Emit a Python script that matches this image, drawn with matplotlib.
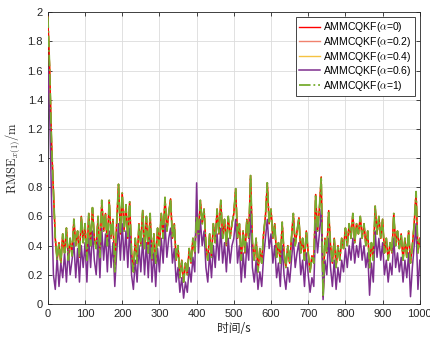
import numpy as np
import matplotlib
matplotlib.use("Agg")
import matplotlib.pyplot as plt

plt.rcParams['font.family'] = ['Liberation Sans', 'Noto Sans CJK SC', 'DejaVu Sans']
plt.rcParams['mathtext.fontset'] = 'cm'

# time axis, one sample every 5 s
t = np.arange(0, 1001, 5)

# RMSE (alpha = 0, 0.2, 0.4, 1 overlap almost exactly)
rmse_a0 = [
    1.97, 1.60, 1.10, 0.78, 0.45, 0.30, 0.42, 0.28, 0.48, 0.35, 0.52, 0.30, 0.45, 0.33, 0.58, 0.40, 0.50, 0.32, 0.60, 0.42,
    0.55, 0.30, 0.62, 0.40, 0.66, 0.45, 0.38, 0.60, 0.32, 0.71, 0.50, 0.62, 0.40, 0.71, 0.45, 0.58, 0.22, 0.55, 0.82, 0.48,
    0.76, 0.50, 0.68, 0.45, 0.70, 0.35, 0.22, 0.45, 0.28, 0.55, 0.40, 0.64, 0.38, 0.60, 0.35, 0.62, 0.30, 0.48, 0.28, 0.52,
    0.40, 0.62, 0.45, 0.73, 0.50, 0.62, 0.72, 0.45, 0.55, 0.30, 0.40, 0.18, 0.30, 0.15, 0.28, 0.20, 0.38, 0.28, 0.45, 0.35,
    0.60, 0.48, 0.71, 0.55, 0.65, 0.40, 0.30, 0.48, 0.32, 0.55, 0.42, 0.65, 0.48, 0.71, 0.45, 0.58, 0.40, 0.60, 0.45, 0.55,
    0.62, 0.79, 0.45, 0.55, 0.30, 0.50, 0.35, 0.58, 0.45, 0.88, 0.42, 0.30, 0.45, 0.22, 0.38, 0.28, 0.48, 0.60, 0.83, 0.55,
    0.65, 0.45, 0.55, 0.32, 0.42, 0.28, 0.56, 0.35, 0.25, 0.40, 0.28, 0.45, 0.62, 0.40, 0.50, 0.59, 0.35, 0.45, 0.30, 0.50,
    0.35, 0.22, 0.33, 0.28, 0.75, 0.50, 0.65, 0.87, 0.05, 0.45, 0.35, 0.64, 0.40, 0.28, 0.45, 0.25, 0.40, 0.30, 0.45, 0.38,
    0.52, 0.40, 0.55, 0.45, 0.62, 0.42, 0.55, 0.48, 0.60, 0.45, 0.55, 0.40, 0.50, 0.25, 0.42, 0.30, 0.67, 0.48, 0.60, 0.45,
    0.58, 0.35, 0.45, 0.30, 0.42, 0.35, 0.62, 0.40, 0.50, 0.38, 0.48, 0.30, 0.45, 0.32, 0.50, 0.28, 0.40, 0.55, 0.77, 0.35, 0.45,
]
rmse_a02 = rmse_a0
rmse_a04 = rmse_a0
rmse_a1 = rmse_a0
rmse_a06 = [
    1.62, 1.30, 0.70, 0.20, 0.10, 0.32, 0.12, 0.28, 0.18, 0.35, 0.15, 0.38, 0.20, 0.30, 0.42, 0.18, 0.38, 0.15, 0.40, 0.25,
    0.42, 0.15, 0.45, 0.25, 0.50, 0.30, 0.20, 0.45, 0.18, 0.52, 0.30, 0.48, 0.22, 0.50, 0.25, 0.42, 0.12, 0.35, 0.55, 0.30,
    0.55, 0.30, 0.50, 0.25, 0.52, 0.20, 0.10, 0.30, 0.15, 0.40, 0.22, 0.45, 0.20, 0.42, 0.18, 0.45, 0.15, 0.35, 0.12, 0.38,
    0.22, 0.45, 0.28, 0.55, 0.32, 0.45, 0.52, 0.28, 0.38, 0.15, 0.25, 0.08, 0.18, 0.04, 0.15, 0.08, 0.25, 0.15, 0.32, 0.22,
    0.83, 0.35, 0.58, 0.40, 0.50, 0.25, 0.15, 0.35, 0.18, 0.40, 0.25, 0.48, 0.30, 0.52, 0.28, 0.42, 0.22, 0.45, 0.28, 0.40,
    0.45, 0.58, 0.28, 0.40, 0.15, 0.35, 0.18, 0.42, 0.30, 0.65, 0.25, 0.15, 0.30, 0.10, 0.22, 0.12, 0.32, 0.45, 0.58, 0.38,
    0.48, 0.28, 0.40, 0.18, 0.28, 0.12, 0.40, 0.20, 0.10, 0.25, 0.15, 0.30, 0.45, 0.25, 0.35, 0.42, 0.20, 0.30, 0.12, 0.35,
    0.20, 0.08, 0.18, 0.12, 0.55, 0.35, 0.48, 0.65, 0.03, 0.30, 0.20, 0.45, 0.25, 0.12, 0.30, 0.10, 0.25, 0.15, 0.30, 0.22,
    0.38, 0.25, 0.40, 0.30, 0.45, 0.28, 0.40, 0.32, 0.45, 0.30, 0.40, 0.25, 0.35, 0.06, 0.28, 0.15, 0.50, 0.32, 0.45, 0.30,
    0.42, 0.20, 0.30, 0.15, 0.28, 0.20, 0.45, 0.25, 0.35, 0.22, 0.32, 0.15, 0.30, 0.18, 0.35, 0.05, 0.25, 0.40, 0.55, 0.10, 0.30,
]

labels = [r'AMMCQKF($\alpha$=0)', r'AMMCQKF($\alpha$=0.2)', r'AMMCQKF($\alpha$=0.4)',
          r'AMMCQKF($\alpha$=0.6)', r'AMMCQKF($\alpha$=1)']

fig = plt.figure(figsize=(4.31, 3.37), dpi=100)
ax = fig.add_axes([0.111, 0.098, 0.863, 0.866])

ax.plot(t, rmse_a0, color='#FF0000', lw=1.0, zorder=3, label=labels[0])
ax.plot(t, rmse_a02, color='#F0826E', lw=1.0, zorder=1, label=labels[1])
ax.plot(t, rmse_a04, color='#F5C242', lw=1.0, zorder=2, label=labels[2])
ax.plot(t, rmse_a06, color='#7E2F8E', lw=1.1, zorder=4, label=labels[3])
ax.plot(t, rmse_a1, color='#77AC30', lw=1.3, ls='-.', zorder=5, label=labels[4])

ax.set_xlim(0, 1000)
ax.set_ylim(0, 2)
ax.set_xticks(np.arange(0, 1001, 100))
ax.set_yticks(np.arange(0, 2.01, 0.2))
ax.set_yticklabels(['0', '0.2', '0.4', '0.6', '0.8', '1', '1.2', '1.4', '1.6', '1.8', '2'])
ax.tick_params(direction='in', top=True, right=True, labelsize=8, colors='#262626',
               length=3, width=0.6)
ax.grid(True, color='#DCDCDC', lw=0.6)
ax.set_axisbelow(True)
for s in ax.spines.values():
    s.set_color('#262626')
    s.set_linewidth(0.6)

ax.set_xlabel('时间/s', fontsize=8.5, color='#262626', labelpad=2,
              family=['Noto Sans CJK SC', 'DejaVu Sans'])
ax.set_ylabel(r'$\mathrm{RMSE}_{x(1)}/\mathrm{m}$', fontsize=9, color='#262626', labelpad=4)

leg = ax.legend(loc='upper right', fontsize=7.5, fancybox=False, edgecolor='#262626',
                framealpha=1, handlelength=2.0, handletextpad=0.3, borderpad=0.3,
                labelspacing=0.05, borderaxespad=0.5)
leg.get_frame().set_linewidth(0.6)

fig.savefig('out.png', dpi=100)
